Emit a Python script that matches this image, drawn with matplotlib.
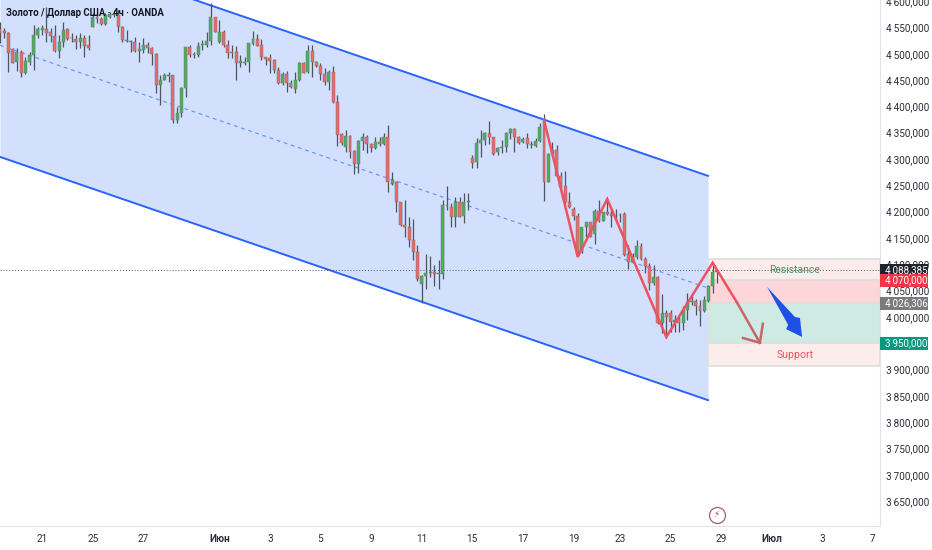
import matplotlib
matplotlib.use('Agg')
import matplotlib.pyplot as plt
from matplotlib.patches import Polygon, Rectangle

plt.rcParams['font.family'] = ['Roboto', 'DejaVu Sans']

# OHLC (4h candles)
opens = [4546,4544,4540,4509,4485,4503,4463,4485,4498,4535,
         4545,4547,4541,4534,4506,4522,4547,4529,4528,4523,
         4529,4517,4551,4569,4566,4556,4569,4574,4574,4551,
         4525,4525,4522,4506,4507,4517,4511,4499,4441,4451,
         4458,4460,4374,4388,4434,4512,4499,4498,4516,4517,
         4524,4569,4523,4542,4517,4501,4504,4482,4483,4484,
         4518,4528,4517,4493,4491,4488,4470,4444,4461,4444,
         4433,4450,4482,4466,4505,4485,4477,4461,4446,4465,
         4408,4347,4322,4344,4315,4290,4334,4342,4329,4320,
         4333,4328,4342,4252,4257,4219,4175,4170,4147,4123,
         4062,4077,4084,4085,4082,4081,4211,4209,4190,4219,
         4192,4218,4302,4294,4330,4336,4350,4341,4313,4320,
         4323,4349,4357,4342,4333,4339,4327,4325,4335,4374,
         4257,4309,4317,4268,4249,4219,4206,4192,4124,4170,
         4180,4157,4202,4183,4199,4195,4193,4194,4195,4120,
         4105,4114,4135,4111,4097,4064,4076,3988,4008,4007,
         3991,3997,3989,4013,4028,4030,4021,4012,4031,4059,4085]
highs = [4561,4548,4542,4510,4510,4507,4494,4504,4555,4551,
         4555,4589,4548,4555,4536,4561,4548,4539,4536,4539,
         4536,4536,4577,4577,4570,4577,4580,4583,4583,4553,
         4545,4526,4532,4523,4529,4523,4513,4501,4460,4464,
         4466,4460,4399,4436,4513,4517,4503,4523,4526,4542,
         4596,4570,4564,4545,4526,4517,4515,4498,4493,4521,
         4543,4537,4527,4494,4499,4489,4475,4466,4468,4450,
         4466,4485,4485,4517,4517,4487,4483,4472,4469,4477,
         4422,4349,4356,4346,4317,4336,4349,4346,4331,4342,
         4342,4349,4365,4276,4259,4219,4222,4189,4187,4137,
         4080,4119,4115,4099,4108,4222,4249,4216,4227,4228,
         4236,4236,4308,4339,4355,4352,4372,4342,4323,4336,
         4351,4358,4358,4344,4342,4349,4334,4339,4368,4385,
         4311,4332,4327,4276,4278,4237,4209,4197,4171,4180,
         4181,4205,4223,4200,4225,4209,4206,4197,4199,4137,
         4121,4146,4140,4113,4102,4099,4078,4043,4013,4013,
         4004,4004,4021,4045,4045,4035,4032,4040,4061,4102,4092]
lows = [4520,4529,4466,4482,4468,4455,4461,4479,4469,4529,
        4536,4523,4523,4504,4491,4513,4526,4523,4509,4510,
        4494,4507,4551,4558,4555,4555,4567,4570,4542,4523,
        4523,4504,4504,4485,4501,4501,4479,4425,4403,4450,
        4447,4369,4369,4380,4418,4494,4491,4494,4507,4513,
        4517,4541,4520,4513,4491,4491,4450,4474,4479,4466,
        4517,4515,4488,4479,4464,4464,4442,4441,4428,4434,
        4426,4449,4463,4463,4456,4475,4451,4441,4431,4407,
        4325,4327,4314,4301,4271,4274,4317,4311,4314,4319,
        4325,4327,4238,4251,4200,4173,4152,4132,4108,4069,
        4026,4054,4075,4059,4054,4073,4203,4171,4171,4189,
        4178,4203,4282,4282,4303,4327,4328,4308,4308,4311,
        4314,4338,4314,4328,4330,4320,4320,4323,4333,4221,
        4256,4308,4266,4238,4213,4207,4184,4118,4121,4152,
        4151,4138,4181,4182,4194,4171,4182,4180,4116,4092,
        4102,4111,4109,4083,4051,4061,3987,3969,3961,3972,
        3972,3972,3975,3994,4023,4004,3983,4009,4029,4045,4065]
closes = [4539,4539,4501,4483,4504,4463,4486,4498,4536,4546,
          4548,4540,4534,4506,4522,4545,4527,4530,4523,4530,
          4515,4510,4570,4565,4556,4574,4575,4575,4551,4526,
          4526,4522,4506,4508,4517,4511,4499,4441,4451,4459,
          4460,4374,4388,4434,4512,4498,4498,4515,4517,4525,
          4569,4542,4542,4517,4501,4504,4482,4486,4484,4520,
          4528,4515,4493,4489,4487,4469,4444,4461,4444,4436,
          4450,4482,4464,4505,4485,4477,4461,4446,4465,4408,
          4346,4330,4344,4314,4290,4335,4342,4329,4320,4333,
          4329,4342,4257,4260,4219,4175,4170,4147,4123,4072,
          4077,4084,4085,4082,4083,4212,4212,4190,4219,4190,
          4218,4220,4293,4330,4336,4350,4341,4309,4320,4323,
          4349,4357,4341,4331,4338,4328,4328,4335,4361,4257,
          4309,4317,4268,4247,4218,4209,4192,4124,4170,4180,
          4152,4202,4183,4199,4195,4191,4194,4193,4118,4105,
          4114,4135,4111,4097,4064,4076,3988,4007,3999,3991,
          3995,3989,4013,4029,4029,4021,4012,4032,4059,4085,4088]

# axes labels
x_ticks = [10, 22, 34, 52, 64, 76, 88, 100, 112, 124, 136, 147, 159, 171, 183, 195, 207]
x_labels = ['21', '25', '27', 'Июн', '3', '5', '9', '11', '15', '17', '19', '23', '25', '29', 'Июл', '3', '7']
y_ticks = [3650, 3700, 3750, 3800, 3850, 3900, 4000, 4050, 4100, 4150, 4200,
           4250, 4300, 4350, 4400, 4450, 4500, 4550, 4600]

# drawings: channel, zigzag, arrows, zones (candle index, price)
channel_x = [0, 167.9]
channel_top = [4729, 4268]
channel_mid = [4516, 4055]
channel_bottom = [4304, 3842]
zigzag_x = [129, 137, 144, 158, 169, 174.8]
zigzag_y = [4374, 4114, 4224, 3962, 4103, 4027]
arrow_x = [174.8, 180.2]
arrow_y = [4027, 3951]
head_x = [176.2, 180.2, 180.9]
head_y = [3960, 3951, 3987]
blue_x = [181.9, 188.5, 189.7, 190.2, 186.4, 186.9]
blue_y = [4057, 4000, 3998, 3962, 3977, 3985]
zone_levels = [4110, 4070, 4026, 3950, 3907]
zone_colors = ['#fdecec', '#fcd6d8', '#cfeae3', '#fdecec']
last_price = 4088.385

# right-hand price tags
tag_prices = [4088.385, 4070, 4026.306, 3950]
tag_labels = ['4\u2009088,385', '4\u2009070,000', '4\u2009026,306', '3\u2009950,000']
tag_colors = ['#20232c', '#f23645', '#7b7b7b', '#089981']

fig = plt.figure(figsize=(9.32, 5.5), dpi=100)
ax = fig.add_axes([0, 24 / 550, 880 / 932, 526 / 550])
ax.set_xlim(0, 880 / 4.217)
ax.set_ylim(3603, 4602)

# channel
ax.fill_between(channel_x, channel_bottom, channel_top, color='#d2e0fe', lw=0, zorder=1)
ax.plot(channel_x, channel_top, color='#2962ff', lw=1.4, zorder=2)
ax.plot(channel_x, channel_bottom, color='#2962ff', lw=1.4, zorder=2)
ax.plot(channel_x, channel_mid, color='#6f96ff', lw=0.9, ls=(0, (3, 3)), zorder=2)

# zones
for k in range(4):
    ax.add_patch(Rectangle((channel_x[1], zone_levels[k + 1]), 880 / 4.217 - channel_x[1],
                           zone_levels[k] - zone_levels[k + 1], fc=zone_colors[k], ec='#dedede', lw=1.2, zorder=1))

ax.axhline(last_price, color='#555555', lw=0.7, ls=(0, (1, 2)), zorder=2)

# candles
for i in range(len(opens)):
    up = closes[i] >= opens[i]
    ax.vlines(i, lows[i], highs[i], color='#50545a', lw=0.9, zorder=3)
    ax.bar(i, max(abs(closes[i] - opens[i]), 1.5), width=0.7, bottom=min(opens[i], closes[i]),
           color='#4caf5f' if up else '#ee6a6a', edgecolor='#6a6d72', lw=0.3, zorder=4)

# zigzag and arrows
ax.plot(zigzag_x, zigzag_y, color='#f0505f', lw=1.8, zorder=5, solid_joinstyle='miter')
ax.plot(arrow_x, arrow_y, color='#c4666c', lw=1.8, zorder=5)
ax.plot(head_x, head_y, color='#c4666c', lw=1.8, zorder=5)
ax.add_patch(Polygon(list(zip(blue_x, blue_y)), closed=True, fc='#1f50e6', ec='none', zorder=5))

ax.text(188.5, 4089, 'Resistance', color='#3b9a5e', fontsize=7.5, ha='center', va='center', zorder=6)
ax.text(188.5, 3927, 'Support', color='#f0505f', fontsize=7.6, ha='center', va='center', zorder=6)

# lightning icon
ax.plot(170, 3624, 'o', ms=11.5, mfc='none', mec='#a0607a', mew=0.9, zorder=6)
ax.text(170, 3624, '\u26a1', family=['DejaVu Sans'], color='#a0607a', fontsize=6.5, ha='center', va='center', zorder=6)

# title
ax.text(6 / 880, 1 - 13 / 526, 'Золото / Доллар США · 4ч · OANDA', transform=ax.transAxes,
        color='#131722', fontsize=6.9, fontweight='bold', va='center', zorder=7)

# axes
ax.xaxis.set_ticks(x_ticks, x_labels)
ax.yaxis.tick_right()
ax.yaxis.set_ticks([p for p in y_ticks],
                   [f'{p // 1000}\u2009{p % 1000:03d},000' for p in y_ticks])
ax.tick_params(axis='both', length=0, labelsize=7.2, labelcolor='#2a2e39')
ax.tick_params(axis='x', pad=6)
ax.tick_params(axis='y', pad=4)
for lab in ax.get_xticklabels():
    if lab.get_text() in ('Июн', 'Июл'):
        lab.set_fontweight('bold')
for side in ('top', 'left'):
    ax.spines[side].set_visible(False)
for side in ('right', 'bottom'):
    ax.spines[side].set_color('#e0e3eb')

# price tags
for p, txt, col in zip(tag_prices, tag_labels, tag_colors):
    ax.add_patch(Rectangle((1, p - 12.5), 48 / 880, 25, transform=ax.get_yaxis_transform(),
                           fc=col, ec='none', clip_on=False, zorder=8))
    ax.text(1 + 5 / 880, p, txt, transform=ax.get_yaxis_transform(), color='white',
            fontsize=7.1, va='center', ha='left', clip_on=False, zorder=9)

fig.savefig('out.png', dpi=100)
